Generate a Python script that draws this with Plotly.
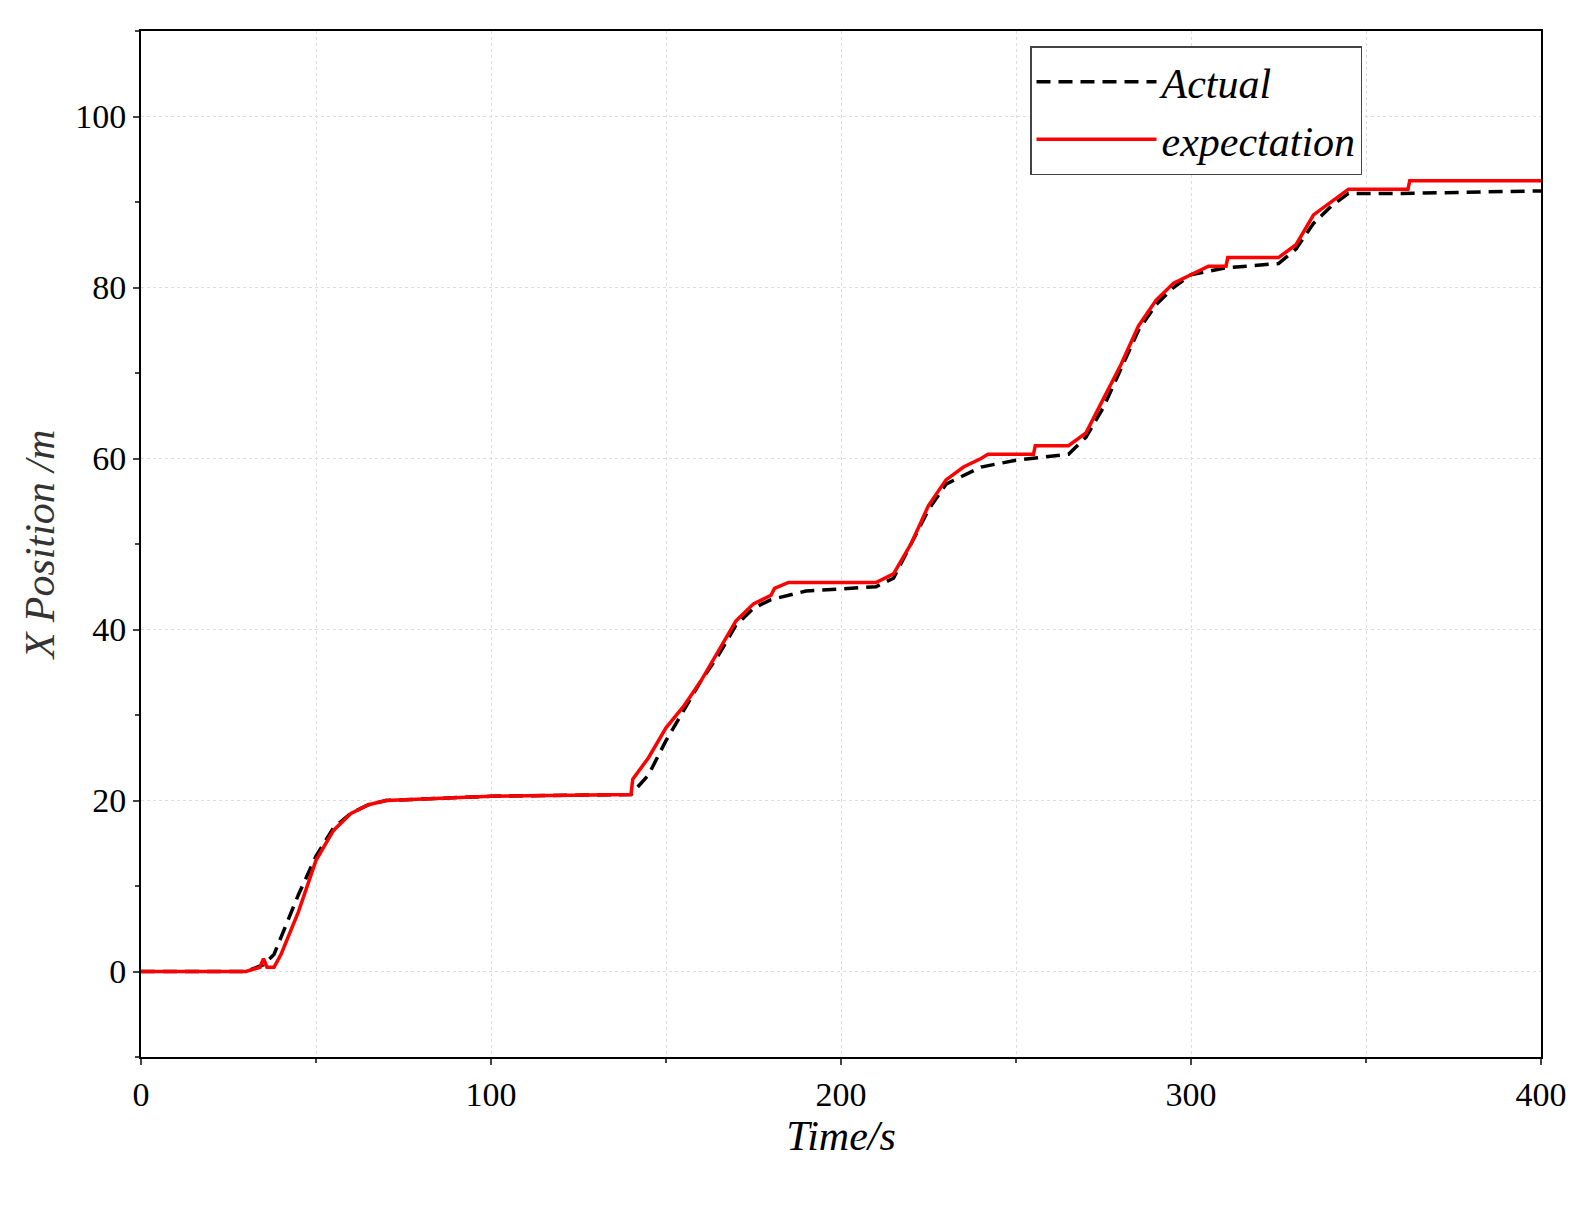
import plotly.graph_objects as go

t_exp = [0, 30, 34, 35, 36, 38, 40, 45, 50, 55, 60, 65, 70, 80, 100, 140, 140.5, 145, 150, 155, 160, 165, 170, 175, 180, 181, 185, 210, 215, 220, 225, 230, 235, 240, 242, 255, 255.5, 265, 270, 275, 280, 285, 290, 295, 300, 305, 310, 310.5, 325, 330, 335, 340, 345, 362, 362.5, 400]
x_exp = [0, 0, 0.5, 1.5, 0.5, 0.5, 2, 7, 13, 16.5, 18.5, 19.5, 20, 20.2, 20.5, 20.7, 22.5, 25, 28.5, 31, 34, 37.5, 41, 43, 44, 44.8, 45.5, 45.5, 46.5, 50, 54.5, 57.5, 59, 60, 60.5, 60.5, 61.5, 61.5, 63, 67, 71, 75.5, 78.5, 80.5, 81.5, 82.5, 82.5, 83.5, 83.5, 85, 88.5, 90, 91.5, 91.5, 92.5, 92.5]

t_act = [0, 30, 35, 38, 40, 45, 50, 55, 60, 65, 70, 80, 100, 140, 145, 150, 155, 160, 165, 170, 175, 180, 190, 210, 215, 220, 225, 230, 240, 250, 265, 270, 275, 280, 285, 290, 295, 300, 310, 325, 330, 335, 340, 345, 360, 400]
x_act = [0, 0, 0.8, 2, 4, 9, 13.5, 16.8, 18.5, 19.5, 20, 20.2, 20.5, 20.7, 23, 27, 30.5, 34, 37, 40.5, 42.5, 43.5, 44.5, 45, 46, 50, 54, 57, 59, 59.8, 60.5, 62.5, 66, 70.5, 75, 78, 80, 81.5, 82.3, 82.8, 84.5, 87.5, 89.5, 91, 91, 91.3]

fig = go.Figure()
fig.add_trace(go.Scatter(x=t_act, y=x_act, mode="lines", name="<i>Actual</i>",
                         line=dict(color="black", width=3.5, dash="14px,8px")))
fig.add_trace(go.Scatter(x=t_exp, y=x_exp, mode="lines", name="<i>expectation</i>",
                         line=dict(color="red", width=3.5)))

font = "Liberation Serif"
ax = dict(showline=True, linecolor="black", linewidth=2, mirror=True, ticks="outside",
          ticklen=6, tickwidth=1.5, gridcolor="#dddddd", griddash="dot", zeroline=False,
          tickfont=dict(family=font, size=34, color="black"))
fig.update_xaxes(range=[0, 400], dtick=100, minor=dict(dtick=50, ticks="outside", ticklen=4, showgrid=True, gridcolor="#dddddd", griddash="dot"),
                 title=dict(text="<i>Time/s</i>", font=dict(family=font, size=42, color="black"), standoff=5), **ax)
fig.update_yaxes(range=[-10, 110], dtick=20, minor=dict(dtick=10, ticks="outside", ticklen=4),
                 title=dict(text="<i>X Position /m</i>", font=dict(family=font, size=42, color="#333"), standoff=8), **ax)
fig.update_layout(width=1591, height=1217, plot_bgcolor="white", paper_bgcolor="white",
                  margin=dict(l=133, r=58, t=23, b=168),
                  legend=dict(x=0.635, y=0.985, xanchor="left", yanchor="top", bordercolor="#444",
                              borderwidth=1.5, bgcolor="white", tracegroupgap=0,
                              font=dict(family=font, size=42, color="black"), itemwidth=120),
                  showlegend=True)
fig.write_html("out.html")
